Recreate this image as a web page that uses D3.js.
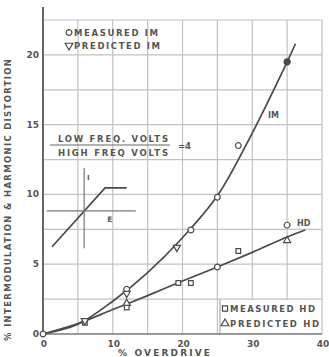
<!DOCTYPE html>
<html><head><meta charset="utf-8">
<script src="https://cdn.jsdelivr.net/npm/d3@7"></script>
<style>body{margin:0;background:#fff}svg{display:block}text{font-family:"DejaVu Sans",sans-serif;font-weight:bold;fill:#555}</style>
</head><body><svg id="c" width="329" height="357"></svg>
<script>
// ---- data ----
const xTicks = [0, 10, 20, 30, 40];
const yTicks = [0, 5, 10, 15, 20];
const xGrid = [5, 10, 15, 20, 25, 30, 35, 40];
const yGrid = [2.5, 5, 7.5, 10, 12.5, 15, 17.5, 20, 22.5];
// fitted curves
const imCurve = [[0,0],[5,0.7],[10,2.35],[15,4.4],[20,6.9],[25,9.9],[30,14.4],[35,19.5],[36.2,20.8]];
const hdCurve = [[0,0],[5,0.75],[10,1.75],[15,2.75],[20,3.8],[25,4.8],[30,5.85],[35,6.95],[37.6,7.45]];
// plotted points by symbol
const circlePts = [[0,0],[12,3.2],[21.2,7.45],[25,9.8],[28,13.5],[25,4.8],[35,7.8]];
const triDownPts = [[6,0.95],[12,2.9],[19.2,6.2]];
const filledPts = [[35,19.5]];
const squarePts = [[6,0.8],[12,1.9],[19.4,3.65],[21.2,3.65],[28,5.95]];
const triUpPts = [[12,2.2],[35,6.7]];
// inset diagram (in chart units)
const insetTransfer = [[1.3,6.25],[8.9,10.47],[12.0,10.47]];
const insetVert = [[5.9,11.9],[5.9,6.15]];
const insetHorz = [[0.55,8.82],[13.3,8.82]];

const svg = d3.select("#c");
const x = d3.scaleLinear().domain([0,40]).range([43,322]);
const y = d3.scaleLinear().domain([0,22.5]).range([334,20]);
const ink = "#4a4a4a";

// grid
const g = svg.append("g");
g.selectAll(".vg").data(xGrid).join("line").attr("x1",d=>x(d)).attr("x2",d=>x(d)).attr("y1",y(0)).attr("y2",y(22.5)).attr("stroke","#c2c2c2").attr("stroke-width",1.2);
g.selectAll(".hg").data(yGrid).join("line").attr("x1",x(0)).attr("x2",x(40)).attr("y1",d=>y(d)).attr("y2",d=>y(d)).attr("stroke","#c2c2c2").attr("stroke-width",1.2);

// axes
svg.append("line").attr("x1",x(0)).attr("x2",x(0)).attr("y1",7).attr("y2",y(0)).attr("stroke","#666").attr("stroke-width",2);
svg.append("line").attr("x1",x(0)).attr("x2",x(40)).attr("y1",y(0)).attr("y2",y(0)).attr("stroke","#777").attr("stroke-width",1.5);

// tick labels
svg.selectAll(".yt").data(yTicks).join("text").attr("x",x(0)-4).attr("y",d=>y(d)+3).attr("text-anchor","end").attr("font-size",9).text(d=>d);
svg.selectAll(".xt").data(xTicks).join("text").attr("x",d=>x(d)+1).attr("y",y(0)+13).attr("text-anchor","middle").attr("font-size",9).text(d=>d);

// titles
svg.append("text").attr("transform","translate(11,200) rotate(-90)").attr("text-anchor","middle").attr("font-size",8.5)
  .attr("textLength",282).attr("lengthAdjust","spacing").text("% INTERMODULATION & HARMONIC DISTORTION");
svg.append("text").attr("x",118).attr("y",356).attr("font-size",9).attr("textLength",92).attr("lengthAdjust","spacing").text("% OVERDRIVE");

// bottom-right legend box
svg.append("rect").attr("x",220).attr("y",y(2.5)+1).attr("width",x(40)-220-1).attr("height",y(0)-y(2.5)-2).attr("fill","#fff");
svg.append("line").attr("x1",220).attr("x2",220).attr("y1",y(2.5)).attr("y2",y(0)).attr("stroke","#999").attr("stroke-width",1);

// curves
const line = d3.line().x(d=>x(d[0])).y(d=>y(d[1])).curve(d3.curveCatmullRom);
svg.append("path").attr("d",line(imCurve)).attr("fill","none").attr("stroke",ink).attr("stroke-width",1.7);
svg.append("path").attr("d",line(hdCurve)).attr("fill","none").attr("stroke",ink).attr("stroke-width",1.7);

// inset
const lin = d3.line().x(d=>x(d[0])).y(d=>y(d[1]));
svg.append("path").attr("d",lin(insetTransfer)).attr("fill","none").attr("stroke",ink).attr("stroke-width",1.7);
svg.append("path").attr("d",lin(insetVert)).attr("fill","none").attr("stroke","#777").attr("stroke-width",1.2);
svg.append("path").attr("d",lin(insetHorz)).attr("fill","none").attr("stroke","#777").attr("stroke-width",1.2);
svg.append("text").attr("x",x(6.3)).attr("y",y(11.05)).attr("font-size",7).text("I");
svg.append("text").attr("x",x(9.2)).attr("y",y(8.0)).attr("font-size",7.5).text("E");

// markers
const sym = (type, size) => d3.symbol().type(type).size(size)();
function marks(pts, type, size, fill){
  svg.append("g").selectAll("path").data(pts).join("path")
    .attr("transform",d=>`translate(${x(d[0])},${y(d[1])})`)
    .attr("d",sym(type,size)).attr("fill",fill).attr("stroke",ink).attr("stroke-width",1.2);
}
marks(circlePts, d3.symbolCircle, 26, "#fff");
marks(squarePts, d3.symbolSquare, 22, "#fff");
marks(triUpPts, d3.symbolTriangle, 22, "#fff");
svg.append("g").selectAll("path").data(triDownPts).join("path")
  .attr("transform",d=>`translate(${x(d[0])},${y(d[1])}) rotate(180)`)
  .attr("d",sym(d3.symbolTriangle,22)).attr("fill","#fff").attr("stroke",ink).attr("stroke-width",1.2);
marks(filledPts, d3.symbolCircle, 30, ink);

// curve labels
svg.append("text").attr("x",268).attr("y",118).attr("font-size",8).text("IM");
svg.append("text").attr("x",297).attr("y",226).attr("font-size",8).text("HD");

// legends
function legendRow(type, rot, lx, ly, label, len){
  svg.append("path").attr("transform",`translate(${lx},${ly-3.5}) rotate(${rot})`).attr("d",sym(type,26)).attr("fill","#fff").attr("stroke",ink).attr("stroke-width",1.2);
  svg.append("text").attr("x",lx+5).attr("y",ly).attr("font-size",8.5).attr("textLength",len).attr("lengthAdjust","spacing").text(label);
}
legendRow(d3.symbolCircle, 0, 69, 36, "MEASURED IM", 84);
legendRow(d3.symbolTriangle, 180, 69, 49, "PREDICTED IM", 86);
legendRow(d3.symbolSquare, 0, 225, 312, "MEASURED HD", 85);
legendRow(d3.symbolTriangle, 0, 225, 327, "PREDICTED HD", 89);

// fraction
svg.append("text").attr("x",58).attr("y",142).attr("font-size",8.5).attr("textLength",110).attr("lengthAdjust","spacing").text("LOW FREQ. VOLTS");
svg.append("line").attr("x1",50).attr("x2",170).attr("y1",145).attr("y2",145).attr("stroke","#666").attr("stroke-width",1);
svg.append("text").attr("x",58).attr("y",156).attr("font-size",8.5).attr("textLength",110).attr("lengthAdjust","spacing").text("HIGH FREQ VOLTS");
svg.append("text").attr("x",178).attr("y",149).attr("font-size",8.5).text("=4");
</script></body></html>
